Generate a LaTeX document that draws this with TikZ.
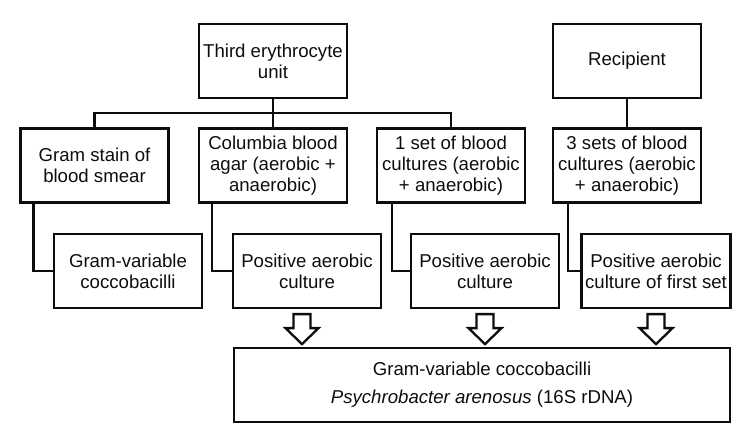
\documentclass[tikz,border=0pt]{standalone}
\usepackage{fontspec}
\setmainfont{Liberation Sans}
\usetikzlibrary{calc}
\colorlet{ink}{black!95}
\tikzset{
  stepbox/.style={
    draw=ink,
    line width=1.3pt,
    minimum width=2.96cm,
    minimum height=1.48cm,
    inner sep=2pt,
    align=center,
    text=ink,
    font=\fontsize{10.6}{11.8}\selectfont
  },
  resultbox/.style={stepbox, minimum width=9.92cm},
  link/.style={draw=ink, line width=1.3pt},
  hollow/.style={draw=ink, fill=white, line width=1.3pt, line join=miter}
}

\begin{document}
\begin{tikzpicture}[x=0.02cm,y=-0.02cm]
  \useasboundingbox (0,0) rectangle (750,448);

  % sources
  \node[stepbox] (unit) at (273,61) {Third erythrocyte\\unit};
  \node[stepbox] (recip) at (627,61) {Recipient};

  % tests
  \node[stepbox] (gram) at (94.5,165.5) {Gram stain of\\blood smear};
  \node[stepbox] (agar) at (273,165.5) {Columbia blood\\agar (aerobic +\\anaerobic)};
  \node[stepbox] (oneset) at (451,165.5) {1 set of blood\\cultures (aerobic\\+ anaerobic)};
  \node[stepbox] (threeset) at (627,165.5) {3 sets of blood\\cultures (aerobic\\+ anaerobic)};

  % findings
  \node[stepbox] (resA) at (128,271) {Gram-variable\\coccobacilli};
  \node[stepbox] (resB) at (307,271) {Positive aerobic\\culture};
  \node[stepbox] (resC) at (485,271) {Positive aerobic\\culture};
  \node[stepbox] (resD) at (656,271) {Positive aerobic\\culture of first set};

  \node[resultbox] (final) at (482,385) {Gram-variable coccobacilli\\[4pt]\textit{Psychrobacter arenosus} (16S rDNA)};

  \coordinate (bus) at ($(unit.south)!0.5!(agar.north)$);
  \draw[link] (unit.south) -- (agar.north);
  \draw[link] (gram.north) |- (bus) -| (oneset.north);
  \draw[link] (recip.south) -- (threeset.north);

  \draw[link] ($(gram.south west)+(14,0)$) |- (resA.west);
  \draw[link] ($(agar.south west)+(14,0)$) |- (resB.west);
  \draw[link] ($(oneset.south west)+(16,0)$) |- (resC.west);
  \draw[link] ($(threeset.south west)+(16,0)$) |- (resD.west);

  \foreach \n/\dx in {resB/-5,resC/0,resD/0}
    \draw[hollow] ($(\n.south)+(\dx-8.5,5)$) -- ++(17,0) -- ++(0,14) -- ++(8,0)
      -- ++(-16.5,16) -- ++(-16.5,-16) -- ++(8,0) -- cycle;
\end{tikzpicture}
\end{document}
